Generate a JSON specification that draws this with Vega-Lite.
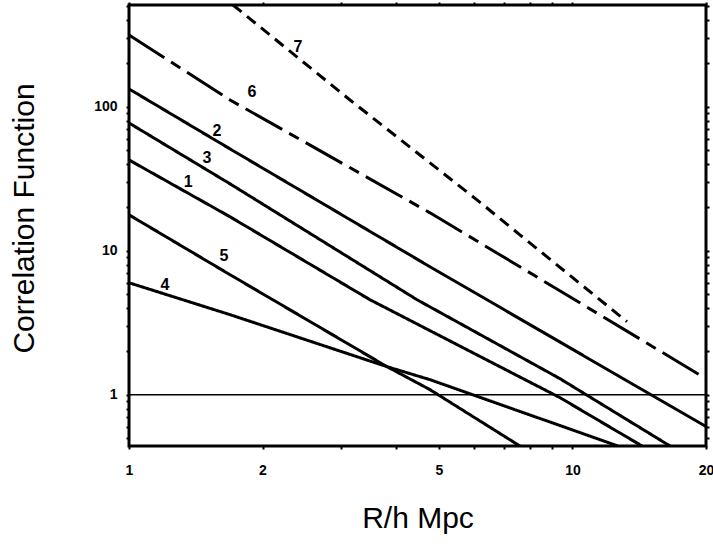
{
  "$schema": "https://vega.github.io/schema/vega-lite/v6.json",
  "width": 577,
  "height": 441,
  "autosize": {"type": "none"},
  "padding": {"left": 129, "top": 5, "right": 7, "bottom": 106},
  "background": "white",
  "config": {
    "view": {"stroke": "black", "strokeWidth": 3},
    "axis": {
      "grid": false,
      "domain": false,
      "tickColor": "black",
      "tickWidth": 2,
      "tickSize": 3,
      "labelFont": "Liberation Sans",
      "labelFontWeight": "bold",
      "labelFontSize": 14,
      "labelColor": "black",
      "titleFont": "Liberation Sans",
      "titleFontWeight": "normal",
      "titleFontSize": 30,
      "titleColor": "black",
      "labelFlush": false,
      "labelOverlap": false,
      "labelBound": false
    }
  },
  "datasets": {
    "curves": [
      {"series": "1", "x": 1, "y": 42.6},
      {"series": "1", "x": 1.69, "y": 17.16},
      {"series": "1", "x": 3.494, "y": 4.56},
      {"series": "1", "x": 9.37, "y": 0.953},
      {"series": "1", "x": 14.35, "y": 0.44},
      {"series": "2", "x": 1, "y": 132.5},
      {"series": "2", "x": 1.69, "y": 50.8},
      {"series": "2", "x": 4.772, "y": 7.72},
      {"series": "2", "x": 20, "y": 0.6},
      {"series": "3", "x": 1, "y": 76.9},
      {"series": "3", "x": 1.69, "y": 29.06},
      {"series": "3", "x": 4.461, "y": 4.56},
      {"series": "3", "x": 9.37, "y": 1.291},
      {"series": "3", "x": 16.59, "y": 0.44},
      {"series": "4", "x": 1, "y": 5.98},
      {"series": "4", "x": 1.69, "y": 3.59},
      {"series": "4", "x": 3.817, "y": 1.564},
      {"series": "4", "x": 4.772, "y": 1.27},
      {"series": "4", "x": 12.66, "y": 0.44},
      {"series": "5", "x": 1, "y": 17.71},
      {"series": "5", "x": 1.69, "y": 6.8},
      {"series": "5", "x": 3.817, "y": 1.564},
      {"series": "5", "x": 4.772, "y": 1.083},
      {"series": "5", "x": 7.61, "y": 0.44},
      {"series": "6", "x": 1, "y": 313.6},
      {"series": "6", "x": 1.69, "y": 111.1},
      {"series": "6", "x": 4.772, "y": 18.29},
      {"series": "6", "x": 7.61, "y": 7.72},
      {"series": "6", "x": 20, "y": 1.291},
      {"series": "7", "x": 1.716, "y": 507},
      {"series": "7", "x": 3.15, "y": 111.1},
      {"series": "7", "x": 6.09, "y": 22.5},
      {"series": "7", "x": 7.61, "y": 12.87},
      {"series": "7", "x": 13.27, "y": 3.21}
    ],
    "labels": [
      {"label": "7", "x": 2.405, "y": 259},
      {"label": "6", "x": 1.894, "y": 126.3},
      {"label": "2", "x": 1.579, "y": 67.7},
      {"label": "3", "x": 1.499, "y": 44.0},
      {"label": "1", "x": 1.359, "y": 30.0},
      {"label": "5", "x": 1.637, "y": 9.2},
      {"label": "4", "x": 1.206, "y": 5.79}
    ]
  },
  "layer": [
    {
      "data": {"name": "curves"},
      "mark": {"type": "line", "color": "black", "strokeWidth": 3, "clip": true},
      "encoding": {
        "x": {
          "field": "x", "type": "quantitative",
          "scale": {"type": "log", "domain": [1, 20], "nice": false},
          "axis": {
            "orient": "bottom",
            "values": [1, 2, 3, 4, 5, 6, 7, 8, 9, 10, 20],
            "labelExpr": "indexof([1,2,5,10,20], datum.value) >= 0 ? datum.value : ''",
            "title": "R/h Mpc",
            "titleBaseline": "alphabetic",
            "titleY": 81,
            "labelPadding": 14
          }
        },
        "y": {
          "field": "y", "type": "quantitative",
          "scale": {"type": "log", "domain": [0.44, 507], "nice": false},
          "axis": {
            "orient": "left",
            "values": [0.5, 0.6, 0.7, 0.8, 0.9, 1, 2, 3, 4, 5, 6, 7, 8, 9, 10, 20, 30, 40, 50, 60, 70, 80, 90, 100, 200, 300, 400, 500],
            "labelExpr": "indexof([1,10,100], datum.value) >= 0 ? datum.value : ''",
            "title": "Correlation Function",
            "titleX": -96,
            "titleY": 213,
            "titleBaseline": "alphabetic",
            "labelPadding": 9
          }
        },
        "strokeDash": {
          "field": "series", "type": "nominal",
          "scale": {
            "domain": ["1", "2", "3", "4", "5", "6", "7"],
            "range": [[1, 0], [1, 0], [1, 0], [1, 0], [1, 0], [42, 8, 11, 8], [11, 7]]
          },
          "legend": null
        }
      }
    },
    {
      "data": {"name": "labels"},
      "mark": {"type": "text", "font": "Liberation Sans", "fontWeight": "bold", "fontSize": 16, "color": "black"},
      "encoding": {
        "x": {
          "field": "x", "type": "quantitative",
          "axis": {"orient": "top", "labels": false, "title": null, "values": [1, 2, 3, 4, 5, 6, 7, 8, 9, 10, 20]}
        },
        "y": {
          "field": "y", "type": "quantitative",
          "axis": {"orient": "right", "labels": false, "title": null, "values": [0.5, 0.6, 0.7, 0.8, 0.9, 1, 2, 3, 4, 5, 6, 7, 8, 9, 10, 20, 30, 40, 50, 60, 70, 80, 90, 100, 200, 300, 400, 500]}
        },
        "text": {"field": "label"}
      }
    },
    {
      "data": {"values": [{}]},
      "mark": {"type": "rule", "color": "black", "strokeWidth": 1.5},
      "encoding": {
        "y": {"datum": 1, "type": "quantitative", "axis": null}
      }
    }
  ],
  "resolve": {"axis": {"x": "independent", "y": "independent"}}
}
